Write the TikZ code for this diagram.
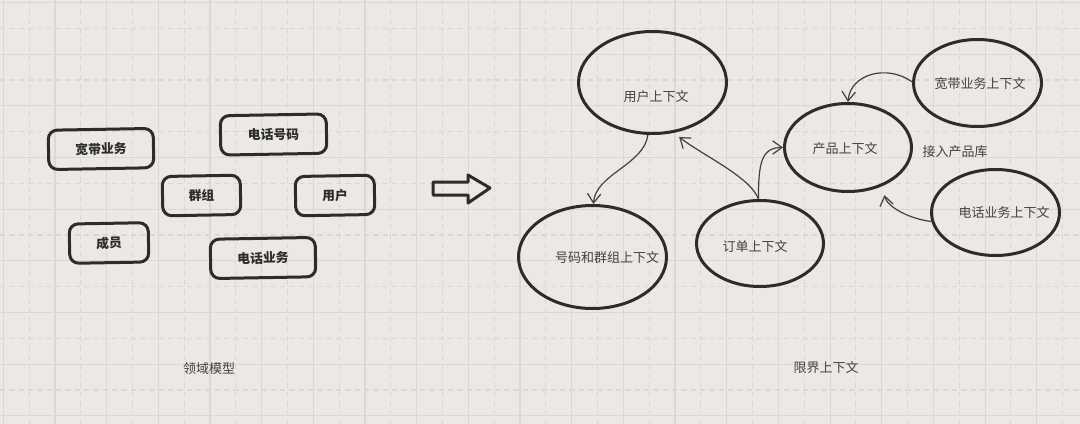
\documentclass[tikz,border=0pt]{standalone}
\usepackage{fontspec}
\newfontfamily\cjk{Noto Sans CJK SC}
\usetikzlibrary{shapes.geometric,arrows.meta}

\definecolor{paper}{RGB}{235,232,229}
\definecolor{gridc}{RGB}{218,216,213}
\definecolor{ink}{RGB}{44,44,44}
\definecolor{txtc}{RGB}{66,66,66}

\tikzset{
  entity/.style={draw=ink, line width=2.25pt, rounded corners=6.75pt, rotate=1,
    minimum height=29.5pt, inner sep=0pt, text=ink,
    font=\cjk\bfseries\fontsize{9.6}{11}\selectfont},
  ctx/.style={ellipse, draw=ink, line width=2.25pt, inner sep=0pt},
  ctxtext/.style={text=txtc, font=\cjk\fontsize{9.75}{11}\selectfont},
  link/.style={draw=ink!90, line width=0.9pt,
    -{Straight Barb[length=7pt,width=10pt]}},
}

\begin{document}
\begin{tikzpicture}[x=0.75pt,y=0.75pt,yscale=-1,xscale=1]
\useasboundingbox[fill=paper] (0,0) rectangle (1080,424);

%Grid
\foreach \i in {0,...,20} {
  \draw[gridc, line width=0.8pt] ({3.3+51.67*\i},0) -- ({3.3+51.67*\i},424);
  \draw[gridc, line width=0.8pt, dash pattern=on 4pt off 3pt] ({29.1+51.67*\i},0) -- ({29.1+51.67*\i},424);
}
\foreach \i in {0,...,8} {
  \draw[gridc, line width=0.8pt] (0,{2.5+51.67*\i}) -- (1080,{2.5+51.67*\i});
  \draw[gridc, line width=0.8pt, dash pattern=on 4pt off 3pt] (0,{28.3+51.67*\i}) -- (1080,{28.3+51.67*\i});
}

%Domain model boxes
\node[entity, minimum width=78.75pt] (bb) at (101,149) {宽带业务};
\node[entity, minimum width=79.5pt] (tel) at (273.5,134.5) {电话号码};
\node[entity, minimum width=58.5pt] (grp) at (201.5,195.5) {群组};
\node[entity, minimum width=59.25pt] (usr) at (335,195.5) {用户};
\node[entity, minimum width=59.25pt] (mem) at (109,243) {成员};
\node[entity, minimum width=78.75pt] (tsvc) at (263,258) {电话业务};

% Text Node
\node[ctxtext] (dmcap) at (209,369) {领域模型};

%Hollow arrow
\draw[ink, line width=2.25pt, line join=round]
  (433,182) -- (468,182) -- (468,175) -- (490,188) -- (468,203) -- (468,195) -- (433,195) -- cycle;

%Shape: Ellipse
\node[ctx, minimum width=111pt, minimum height=76.5pt] (user) at (652.5,82.5) {};
\node[ctx, minimum width=111pt, minimum height=77.25pt] (num) at (592.5,257) {};
\node[ctx, minimum width=95.25pt, minimum height=64.5pt] (order) at (760,243.5) {};
\node[ctx, minimum width=95.25pt, minimum height=66pt] (product) at (848,147.5) {};
\node[ctx, minimum width=96pt, minimum height=65.25pt] (broad) at (977.5,83) {};
\node[ctx, minimum width=96pt, minimum height=64.5pt] (phone) at (995.5,212.5) {};

% Text Node
\node[ctxtext] (userT) at (656,97) {用户上下文};
\node[ctxtext] (numT) at (607,258) {号码和群组上下文};
\node[ctxtext] (orderT) at (755,247) {订单上下文};
\node[ctxtext] (productT) at (845,149) {产品上下文};
\node[ctxtext] (broadT) at (980,84) {宽带业务上下文};
\node[ctxtext] (phoneT) at (1004,213) {电话业务上下文};
\node[ctxtext] (libT) at (955,152) {接入产品库};
\node[ctxtext] (bccap) at (826,368) {限界上下文};

%Curve Lines
\draw[link] (user.-95) .. controls +(-4,30) and +(2,-30) .. (num.89);
\draw[link, shorten >=5pt] (order.92) .. controls +(-8,-22) and +(28,22) .. (user.-67);
\draw[link] (order.92) .. controls +(0,-35) and +(-22,0) .. (product.180);
\draw[link] (broad.179) .. controls +(-25,-18) and +(2,-28) .. (product.90);
\draw[link, shorten >=7pt] (phone.188) .. controls +(-24,-3) and +(4,20) .. (product.-48);

\end{tikzpicture}
\end{document}
